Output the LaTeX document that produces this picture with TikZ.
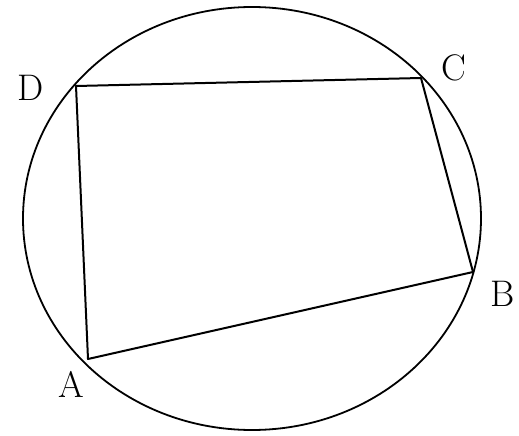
\documentclass[tikz,border=0pt]{standalone}
\begin{document}
\begin{tikzpicture}[x=1pt,y=-1pt,
  edge/.style={line width=2pt,line join=round},
  rim/.style={line width=1.8pt},
  lbl/.style={font=\fontsize{37}{40}\selectfont,inner sep=0pt}]
\useasboundingbox[fill=white] (0,0) rectangle (519,436);
\coordinate (O) at (252,218.5);
\draw[rim] (O) ellipse [x radius=229, y radius=211.5];
\coordinate (D) at (76,86);
\coordinate (C) at (421,78);
\coordinate (B) at (473,272);
\coordinate (A) at (88,359);
\draw[edge] (A) -- (B) -- (C) -- (D) -- cycle;
\node[lbl] (lD) at (31,88) {D};
\node[lbl] (lC) at (454,68) {C};
\node[lbl] (lB) at (503,294) {B};
\node[lbl] (lA) at (71,384) {A};
\end{tikzpicture}
\end{document}
